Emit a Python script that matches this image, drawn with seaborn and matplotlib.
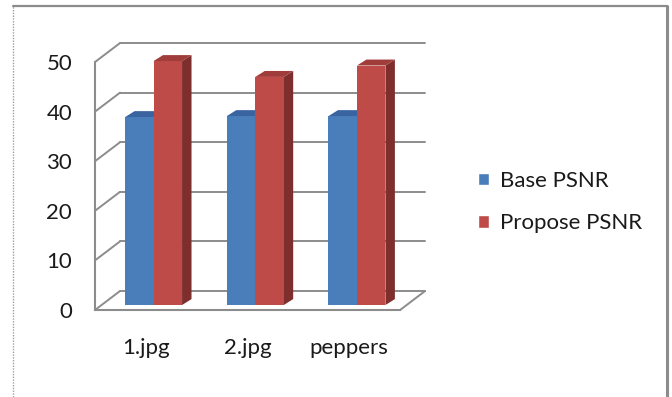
import matplotlib
matplotlib.use("Agg")
import matplotlib.pyplot as plt
from matplotlib.lines import Line2D
from matplotlib.patches import Polygon
from matplotlib.transforms import Affine2D
import pandas as pd
import seaborn as sns

# --- data -------------------------------------------------------------
images = ["1.jpg", "2.jpg", "peppers"]
series = ["Base PSNR", "Propose PSNR"]
base_psnr = [37.9, 38.1, 38.1]
propose_psnr = [49.2, 46.0, 48.3]
y_ticks = [0, 10, 20, 30, 40, 50]

front_colors = ["#4A7EBB", "#BE4B48"]
top_colors = ["#3A64A0", "#A03C39"]
side_colors = ["#2F5180", "#7E2E2C"]
grid_color = "#8C8C8C"
text_color = "#1A1A1A"

df = pd.DataFrame({
    "image": images * 2,
    "series": [series[0]] * 3 + [series[1]] * 3,
    "psnr": base_psnr + propose_psnr,
})

sns.set_style("white")
plt.rcParams["font.family"] = ["Lato", "DejaVu Sans"]
plt.rcParams["font.size"] = 16

# pseudo 3D offsets (data units)
wall_dx, wall_dy = 0.246, 3.83     # back wall
bar_dx, bar_dy = 0.076, 1.0        # bar front plane
depth_dx, depth_dy = 0.093, 1.2    # bar depth

fig = plt.figure(figsize=(6.72, 3.97), dpi=100)
ax = fig.add_axes([95 / 672, 87 / 397, 330.5 / 672, 267.8 / 397])

sns.barplot(data=df, x="image", y="psnr", hue="series", palette=front_colors,
            width=0.56, saturation=1, ax=ax)

handles, labels = ax.get_legend_handles_labels()
ax.get_legend().remove()

# back wall, side wall and floor lines
for y in y_ticks:
    ax.plot([-0.5, -0.5 + wall_dx], [y, y + wall_dy], color=grid_color,
            lw=1.4, zorder=0.5, clip_on=False)
    ax.plot([-0.5 + wall_dx, 2.5 + wall_dx], [y + wall_dy, y + wall_dy],
            color=grid_color, lw=1.4, zorder=0.5, clip_on=False)
ax.plot([2.5, 2.5 + wall_dx], [0, wall_dy], color=grid_color, lw=1.4,
        zorder=0.5, clip_on=False)

# shift bars into the depth and add top / side faces
for i, cont in enumerate(ax.containers):
    z = 2 + i
    for bar in cont:
        bar.set_transform(Affine2D().translate(bar_dx, bar_dy) + ax.transData)
        bar.set_zorder(z)
        bar.set_edgecolor("none")
        x0 = bar.get_x() + bar_dx
        x1 = x0 + bar.get_width()
        h = bar.get_height() + bar_dy
        top = [(x0, h), (x1, h), (x1 + depth_dx, h + depth_dy),
               (x0 + depth_dx, h + depth_dy)]
        side = [(x1, bar_dy), (x1 + depth_dx, bar_dy + depth_dy),
                (x1 + depth_dx, h + depth_dy), (x1, h)]
        ax.add_patch(Polygon(top, closed=True, fc=top_colors[i], ec="none", zorder=z))
        ax.add_patch(Polygon(side, closed=True, fc=side_colors[i], ec="none", zorder=z - 0.1))

ax.set_xlim(-0.5, 2.5 + wall_dx + 0.004)
ax.set_ylim(0, 54)
ax.set_xlabel("")
ax.set_ylabel("")

for s in ["top", "right"]:
    ax.spines[s].set_visible(False)
for s in ["left", "bottom"]:
    ax.spines[s].set_color(grid_color)
    ax.spines[s].set_linewidth(1.5)
ax.spines["left"].set_bounds(0, 50)
ax.spines["bottom"].set_bounds(-0.5, 2.5)

ax.set_yticks(y_ticks)
ax.tick_params(axis="y", length=5.5, width=1.3, color=grid_color, pad=11,
               labelcolor=text_color)
ax.set_xticks(range(len(images)))
ax.set_xticklabels(images)
ax.set_xticks([-0.5, 0.5, 1.5, 2.5], minor=True)
ax.tick_params(axis="x", which="major", length=0, pad=20, labelcolor=text_color)
ax.tick_params(axis="x", which="minor", length=5.5, width=1.3, color=grid_color)

fig.legend(handles, labels, loc="center left", bbox_to_anchor=(458 / 672, 1 - 202 / 397),
           frameon=False, handlelength=0.5, handleheight=0.5, handletextpad=0.5,
           labelspacing=1.0, fontsize=16, labelcolor=text_color)

# chart frame
fig.add_artist(Line2D([13 / 672, 13 / 672], [0, 1 - 6 / 397], color="#A0A0A0",
                      lw=1, ls=(0, (1, 1)), transform=fig.transFigure))
fig.add_artist(Line2D([13 / 672, 667 / 672], [1 - 6 / 397, 1 - 6 / 397],
                      color="#8C8C8C", lw=1.6, transform=fig.transFigure))
fig.add_artist(Line2D([667 / 672, 667 / 672], [0, 1 - 6 / 397], color="#8C8C8C",
                      lw=2.2, transform=fig.transFigure))

fig.savefig("out.png", dpi=100)
